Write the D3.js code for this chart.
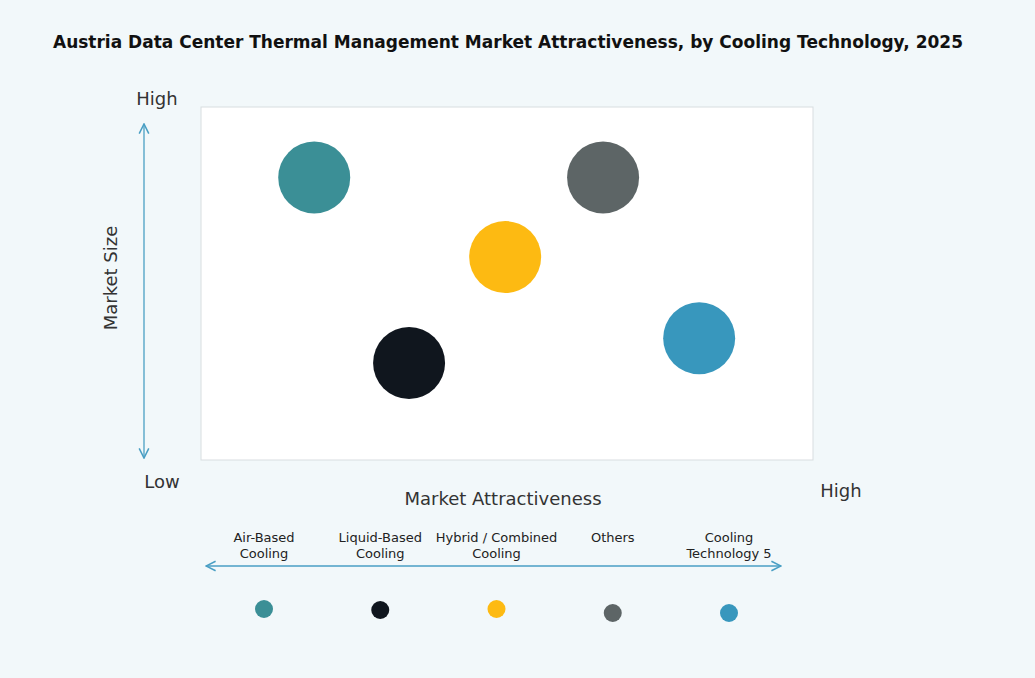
<!DOCTYPE html>
<html><head><meta charset="utf-8">
<script src="https://cdn.jsdelivr.net/npm/d3@7"></script>
<style>body{margin:0;background:#f2f8fa;font-family:"Century Gothic","DejaVu Sans",Roboto,sans-serif}</style>
</head><body><div id="chart"></div>
<script>
const categories = ["Air-Based Cooling", "Liquid-Based Cooling", "Hybrid / Combined Cooling", "Others", "Cooling Technology 5"];
const legendLines = [["Air-Based", "Cooling"], ["Liquid-Based", "Cooling"], ["Hybrid / Combined", "Cooling"], ["Others"], ["Cooling", "Technology 5"]];
const attractiveness = [18.5, 34, 49.7, 65.7, 81.4];
const marketSize = [80, 27.5, 57.5, 80, 34.5];
const colors = ["#3b8f96", "#10161e", "#fdba12", "#5d6566", "#3897bd"];
const legendDotY = [609, 610, 609, 613, 613];

const W = 1035, H = 678;
const svg = d3.select("#chart").append("svg").attr("width", W).attr("height", H);
svg.append("rect").attr("width", W).attr("height", H).attr("fill", "#f2f8fa");

const x = d3.scaleLinear([0, 100], [201, 813]);
const y = d3.scaleLinear([0, 100], [460, 107]);

svg.append("text").attr("x", 508).attr("y", 48).attr("text-anchor", "middle")
    .attr("font-size", 17).attr("font-weight", "bold").attr("fill", "#111")
    .text("Austria Data Center Thermal Management Market Attractiveness,  by Cooling Technology, 2025");

svg.append("rect").attr("x", 201).attr("y", 107).attr("width", 612).attr("height", 353)
    .attr("fill", "#ffffff").attr("stroke", "#d8dde0");

// arrows
const defs = svg.append("defs");
defs.append("marker").attr("id", "ah").attr("viewBox", "0 0 10 10").attr("refX", 9).attr("refY", 5)
    .attr("markerWidth", 12).attr("markerHeight", 12).attr("markerUnits", "userSpaceOnUse").attr("orient", "auto-start-reverse")
  .append("path").attr("d", "M1,1L9,5L1,9").attr("fill", "none").attr("stroke", "#4a9fc4").attr("stroke-width", 1.3);

svg.append("line").attr("x1", 144).attr("x2", 144).attr("y1", 124).attr("y2", 458)
    .attr("stroke", "#4a9fc4").attr("stroke-width", 1.3)
    .attr("marker-start", "url(#ah)").attr("marker-end", "url(#ah)");
svg.append("line").attr("x1", 206).attr("x2", 781).attr("y1", 566).attr("y2", 566)
    .attr("stroke", "#4a9fc4").attr("stroke-width", 1.3)
    .attr("marker-start", "url(#ah)").attr("marker-end", "url(#ah)");

const lbl = (t, px, py, fs, anchor = "middle") => svg.append("text").attr("x", px).attr("y", py)
    .attr("text-anchor", anchor).attr("font-size", fs).attr("fill", "#333").text(t);
lbl("High", 157, 105, 18);
lbl("Low", 162, 488, 18);
lbl("High", 841, 497, 18);
lbl("Market Attractiveness", 503, 505, 18);
svg.append("text").attr("transform", "translate(117,278) rotate(-90)").attr("text-anchor", "middle")
    .attr("font-size", 18).attr("fill", "#333").text("Market Size");

svg.selectAll("circle.bubble").data(categories).join("circle").attr("class", "bubble")
    .attr("cx", (d, i) => x(attractiveness[i])).attr("cy", (d, i) => y(marketSize[i]))
    .attr("r", 36).attr("fill", (d, i) => colors[i]);

// legend
const lx = d3.scalePoint(categories, [264, 729]);
const lg = svg.append("g").selectAll("g").data(categories).join("g");
lg.each(function (d, i) {
  const g = d3.select(this);
  const t = g.append("text").attr("text-anchor", "middle").attr("font-size", 13).attr("fill", "#222");
  legendLines[i].forEach((s, k) => t.append("tspan").attr("x", lx(d)).attr("y", 542 + k * 16).text(s));
  g.append("circle").attr("cx", lx(d)).attr("cy", legendDotY[i]).attr("r", 9).attr("fill", colors[i]);
});
</script></body></html>
